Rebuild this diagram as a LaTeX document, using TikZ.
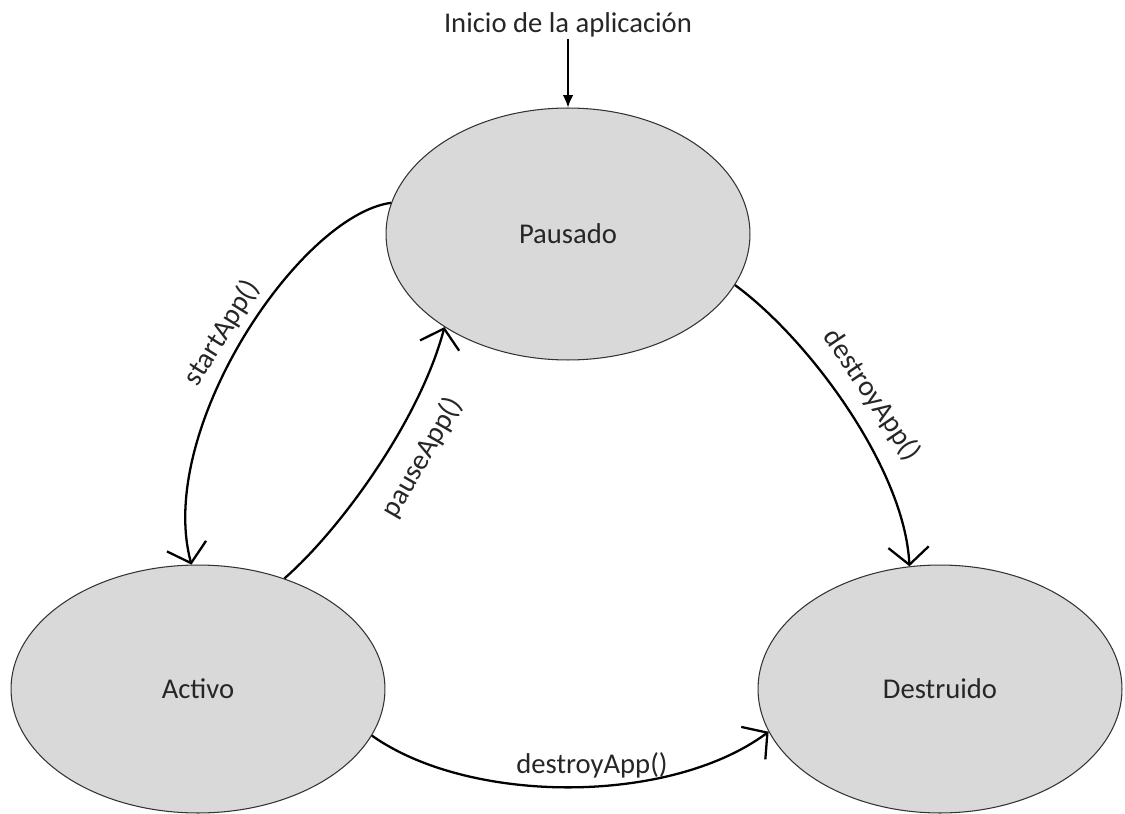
\documentclass[tikz,border=0pt]{standalone}
\usepackage{fontspec}
\setmainfont{Carlito}
\usepackage{tikz}
\usetikzlibrary{shapes.geometric,arrows.meta}

\begin{document}
\begin{tikzpicture}[x=0.02cm,y=-0.02cm,
		font=\fontsize{16.3}{19}\selectfont,
		estado/.style={ellipse,draw=black!80,line width=0.6pt,fill=gray!30,text=black!85,inner sep=0pt,minimum height=4.96cm},
		trans/.style={line width=1.3pt,-{Straight Barb[length=10pt,width=23pt]}},
		etiq/.style={text=black!85,inner sep=1pt}]
		\useasboundingbox (0,0) rectangle (1125,814);
		
		\node[etiq] (inicio) at (568,25) {Inicio de la aplicación};
		\node[estado,minimum width=7.28cm,minimum height=5.04cm] (pausado) at (568,234) {Pausado};
		\node[estado,minimum width=7.48cm] (activo) at (198,689) {Activo};
		\node[estado,minimum width=7.28cm] (destruido) at (940,689) {Destruido};
		
		\draw[line width=1.1pt,-{Latex[length=7pt,width=6pt]}] (inicio.south) -- (pausado.north);
		
		\draw[trans] (pausado.170) .. controls (300,215) and (155,430) .. (activo.93);
		\draw[trans] (activo.52) .. controls (340,530) and (420,420) .. (pausado.217);
		\draw[trans] (pausado.343) .. controls (810,340) and (905,470) .. (destruido.104);
		\draw[trans] (activo.345) .. controls (470,805) and (670,805) .. (destruido.194);
		
		\node[etiq,rotate=58] (lblstart) at (222,333) {startApp()};
		\node[etiq,rotate=60] (lblpause) at (422,458) {pauseApp()};
		\node[etiq,rotate=-56] (lbldest) at (872,395) {destroyApp()};
		\node[etiq] (lbldestb) at (592,765) {destroyApp()};
	\end{tikzpicture}
\end{document}
